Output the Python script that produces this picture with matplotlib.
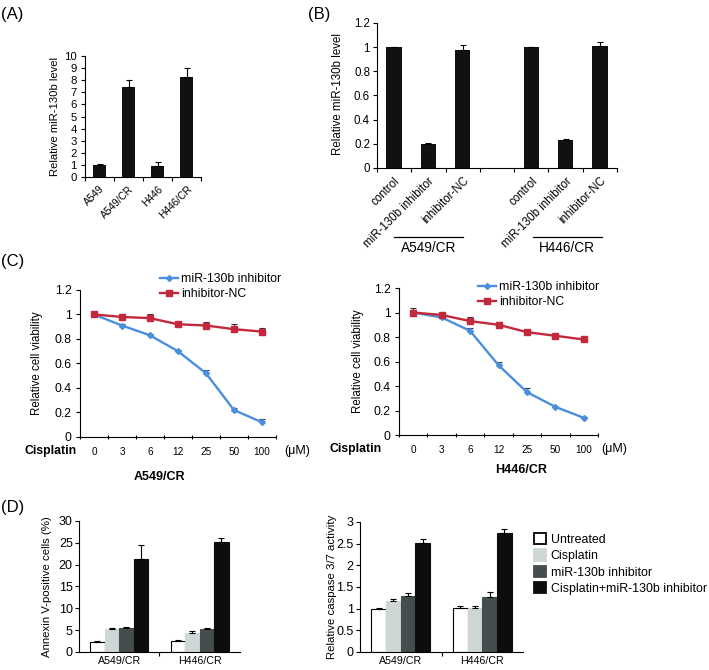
import numpy as np
import matplotlib
matplotlib.use("Agg")
from matplotlib import pyplot as plt
from matplotlib.patches import Patch

plt.rcParams['font.family'] = ['Liberation Sans', 'DejaVu Sans']

# (A) miR-130b level in parental / resistant lines
a_labels = ["A549", "A549/CR", "H446", "H446/CR"]
a_vals = [1.0, 7.45, 0.95, 8.25]
a_err = [0.1, 0.55, 0.3, 0.75]

# (B) inhibitor knock-down
b_labels = ["control", "miR-130b inhibitor", "inhibitor-NC"]
b_groups = ["A549/CR", "H446/CR"]
b_vals = [[1.0, 0.20, 0.98], [1.0, 0.23, 1.01]]
b_err = [[0.003, 0.005, 0.04], [0.005, 0.012, 0.03]]

# (C) cell viability vs cisplatin dose
dose = ["0", "3", "6", "12", "25", "50", "100"]
c_a549_inh = [1.0, 0.91, 0.83, 0.70, 0.52, 0.22, 0.12]
c_a549_inh_err = [0.005, 0.01, 0.01, 0.01, 0.03, 0.02, 0.03]
c_a549_nc = [1.0, 0.98, 0.97, 0.92, 0.91, 0.88, 0.86]
c_a549_nc_err = [0.005, 0.01, 0.03, 0.01, 0.03, 0.04, 0.03]
c_h446_inh = [1.0, 0.96, 0.85, 0.57, 0.35, 0.23, 0.14]
c_h446_inh_err = [0.02, 0.01, 0.02, 0.03, 0.03, 0.01, 0.01]
c_h446_nc = [1.0, 0.98, 0.93, 0.90, 0.84, 0.81, 0.78]
c_h446_nc_err = [0.04, 0.01, 0.03, 0.02, 0.01, 0.01, 0.02]

# (D) apoptosis / caspase
d_groups = ["A549/CR", "H446/CR"]
d_treat = ["Untreated", "Cisplatin", "miR-130b inhibitor", "Cisplatin+miR-130b inhibitor"]
d_annexin = [[2.3, 5.3, 5.4, 21.2], [2.5, 4.3, 5.2, 25.2]]
d_annexin_err = [[0.1, 0.3, 0.3, 3.3], [0.2, 0.4, 0.2, 1.0]]
d_casp = [[1.0, 1.18, 1.3, 2.52], [1.02, 1.02, 1.28, 2.75]]
d_casp_err = [[0.005, 0.05, 0.05, 0.09], [0.03, 0.03, 0.11, 0.09]]
d_colors = ["white", "#cfd6d6", "#454d4f", "#0d0d0d"]

blue = "#4a8fdc"
red = "#c4283c"

fig = plt.figure(figsize=(7.09, 6.70), dpi=100)


def clean(ax):
    ax.spines['top'].set_visible(False)
    ax.spines['right'].set_visible(False)
    ax.tick_params(axis='y', direction='out', length=3, width=0.8)
    for s in ['left', 'bottom']:
        ax.spines[s].set_linewidth(0.8)


def cat_axis(ax, n, labels, fs, rot=0, pad=2, tdir='out'):
    centers = np.arange(n)
    ax.set_xlim(-0.5, n - 0.5)
    if rot:
        ax.set_xticks(centers, labels, rotation=rot, ha='right', rotation_mode='anchor', fontsize=fs)
    else:
        ax.set_xticks(centers, labels, fontsize=fs)
    ax.tick_params(axis='x', which='major', length=0, pad=pad)
    ax.set_xticks(np.arange(n + 1) - 0.5, minor=True)
    ax.tick_params(axis='x', which='minor', length=3, width=0.8, direction=tdir)


def up_err(ax, x, y, e, color='black'):
    ax.errorbar(x, y, yerr=[np.zeros(len(e)), e], fmt='none', ecolor=color,
                elinewidth=0.8, capsize=2, capthick=0.8)


# ---- (A)
axA = fig.add_axes([0.1199, 0.7358, 0.1636, 0.1806])
clean(axA)
xa = np.arange(len(a_vals))
axA.bar(xa, a_vals, width=0.42, color='#111111')
up_err(axA, xa, a_vals, a_err)
axA.set_ylim(0, 10)
axA.set_yticks(range(0, 11))
axA.tick_params(axis='y', labelsize=8.2, pad=3)
cat_axis(axA, 4, a_labels, 7.3, rot=45, pad=5)
axA.set_ylabel("Relative miR-130b level", fontsize=8.1)
axA.yaxis.set_label_coords(-0.216, 0.504)
fig.text(0.002, 0.978, "(A)", fontsize=12, va='center')

# ---- (B)
axB = fig.add_axes([0.5317, 0.7493, 0.3385, 0.2164])
clean(axB)
xb = [0, 1, 2, 4, 5, 6]
vb = b_vals[0] + b_vals[1]
eb = b_err[0] + b_err[1]
axB.bar(xb, vb, width=0.45, color='#111111')
up_err(axB, xb, vb, eb)
axB.set_ylim(0, 1.2)
axB.set_yticks(np.arange(0, 1.21, 0.2), ['0', '0.2', '0.4', '0.6', '0.8', '1', '1.2'])
axB.tick_params(axis='y', labelsize=8.3, pad=2)
cat_axis(axB, 7, b_labels + [""] + b_labels, 8.3, rot=45, pad=5)
axB.set_ylabel("Relative miR-130b level", fontsize=8.3)
axB.yaxis.set_label_coords(-0.1375, 0.51)
tb = axB.get_xaxis_transform()
for g, (x0, x1) in zip(b_groups, [(0, 2), (4.05, 6.05)]):
    axB.plot([x0, x1], [-0.476, -0.476], color='black', lw=0.9, transform=tb, clip_on=False)
    axB.text((x0 + x1) / 2, -0.555, g, transform=tb, ha='center', va='center', fontsize=9.8)
fig.text(0.435, 0.978, "(B)", fontsize=12, va='center')


# ---- (C)
def viability(rect, inh, inh_e, nc, nc_e, title, title_xy, cis_x, um_x, leg_xy, lab_x):
    ax = fig.add_axes(rect)
    clean(ax)
    xc = np.arange(len(dose))
    ax.plot(xc, inh, color=blue, lw=1.7, marker='D', ms=3, label="miR-130b inhibitor", zorder=3)
    up_err(ax, xc, inh, inh_e, color='#333333')
    ax.plot(xc, nc, color=red, lw=1.7, marker='s', ms=5, label="inhibitor-NC", zorder=4)
    up_err(ax, xc, nc, nc_e, color='#333333')
    ax.set_ylim(0, 1.2)
    ax.set_yticks(np.arange(0, 1.21, 0.2), ['0', '0.2', '0.4', '0.6', '0.8', '1', '1.2'])
    ax.tick_params(axis='y', labelsize=8.8, pad=3)
    cat_axis(ax, len(dose), dose, 7.2, pad=7, tdir='inout')
    ax.set_ylabel("Relative cell viability", fontsize=8.3)
    ax.yaxis.set_label_coords(lab_x, 0.5)
    ax.text(cis_x, -0.095, "Cisplatin", transform=ax.transAxes, ha='center', va='center',
            fontsize=8.8, fontweight='bold')
    ax.text(um_x, -0.095, "(\u03bcM)", transform=ax.transAxes, ha='center', va='center', fontsize=9)
    ax.text(title_xy[0], title_xy[1], title, transform=ax.transAxes, ha='center', va='center',
            fontsize=9, fontweight='bold')
    ax.legend(loc='upper left', bbox_to_anchor=leg_xy, frameon=False, fontsize=8.8,
              handlelength=1.5, handletextpad=0.2, labelspacing=0.25,
              borderpad=0, borderaxespad=0)
    return ax


viability([0.1128, 0.3478, 0.2764, 0.2194], c_a549_inh, c_a549_inh_err, c_a549_nc, c_a549_nc_err,
          "A549/CR", (0.403, -0.272), -0.148, 1.11, (0.408, 1.115), -0.189)
viability([0.5628, 0.3507, 0.2807, 0.2194], c_h446_inh, c_h446_inh_err, c_h446_nc, c_h446_nc_err,
          "H446/CR", (0.613, -0.238), -0.216, 1.08, (0.397, 1.045), -0.176)
fig.text(0.002, 0.609, "(C)", fontsize=12, va='center')


# ---- (D)
def grouped(rect, vals, errs, ylim, ticks, tlabels, ylabel, lab_x):
    ax = fig.add_axes(rect)
    clean(ax)
    w = 0.18
    for i in range(len(d_treat)):
        xs = np.arange(len(d_groups)) + (i - 1.5) * w
        v = [vals[g][i] for g in range(len(d_groups))]
        e = [errs[g][i] for g in range(len(d_groups))]
        ax.bar(xs, v, width=w, color=d_colors[i], edgecolor='black' if i == 0 else d_colors[i],
               linewidth=0.8)
        up_err(ax, xs, v, e)
    ax.set_ylim(*ylim)
    ax.set_yticks(ticks, tlabels)
    ax.tick_params(axis='y', labelsize=9, pad=1.5)
    cat_axis(ax, len(d_groups), d_groups, 7.7, pad=3)
    ax.set_xticks([0.5], minor=True)
    ax.set_ylabel(ylabel, fontsize=8.2)
    ax.yaxis.set_label_coords(lab_x, 0.5)
    return ax


grouped([0.1114, 0.0269, 0.2271, 0.1955], d_annexin, d_annexin_err, (0, 30),
        range(0, 31, 5), [str(t) for t in range(0, 31, 5)], "Annexin V-positive cells (%)", -0.168)
grouped([0.5078, 0.0269, 0.2299, 0.1940], d_casp, d_casp_err, (0, 3),
        np.arange(0, 3.01, 0.5), ['0', '0.5', '1', '1.5', '2', '2.5', '3'],
        "Relative caspase 3/7 activity", -0.141)
fig.text(0.002, 0.242, "(D)", fontsize=12, va='center')

handles = [Patch(facecolor=c, edgecolor='black' if i == 0 else c, linewidth=1.3)
           for i, c in enumerate(d_colors)]
fig.legend(handles, d_treat, loc='upper left', bbox_to_anchor=(534 / 709, 1 - 533 / 670),
           frameon=False, fontsize=8.9, handlelength=1.0, handleheight=1.0,
           handletextpad=0.35, labelspacing=0.3, borderpad=0, borderaxespad=0)

fig.savefig("out.png", dpi=100)
